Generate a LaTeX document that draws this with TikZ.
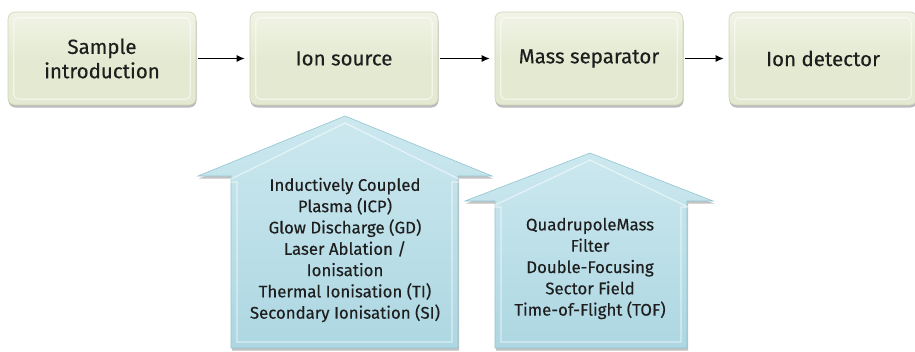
\documentclass[tikz,border=0pt]{standalone}
\usepackage{fontspec}
\setmainfont{Fira Sans}[FakeBold=0.35]
\usetikzlibrary{arrows.meta,shadows,calc}

\definecolor{boxfill}{HTML}{E4EAD2}
\definecolor{boxrim}{HTML}{CDD5B8}
\definecolor{boxlight}{HTML}{F1F4E6}
\definecolor{upfill}{HTML}{ADD7E2}
\definecolor{uprim}{HTML}{92C4D1}
\definecolor{uplight}{HTML}{CCE8EF}
\definecolor{txt}{HTML}{1E1E1E}

\tikzset{
  stagebox/.style={
    draw=boxrim, line width=0.6pt, rounded corners=7pt,
    top color=boxlight, bottom color=boxfill, middle color=boxfill,
    minimum width=188pt, minimum height=93pt,
    align=center, text=txt, font=\fontsize{20.5}{23}\selectfont,
    drop shadow={shadow xshift=0.5pt, shadow yshift=-2.5pt, opacity=0.45, fill=black!60}
  },
  bevel/.style={draw=white, opacity=0.55, line width=1.2pt, rounded corners=5pt},
  flow/.style={-{Latex[length=8pt,width=7pt]}, line width=1pt, black,
    shorten <=2pt, shorten >=5pt},
  upshape/.style={
    draw=uprim, line width=0.6pt, top color=uplight, bottom color=upfill,
    drop shadow={shadow xshift=1pt, shadow yshift=-2.5pt, opacity=0.4, fill=black!60}
  },
  uptext/.style={align=center, text=txt, font=\fontsize{16.8}{21.3}\selectfont}
}

\begin{document}
\begin{tikzpicture}[x=1pt,y=-1pt]
  \useasboundingbox (0,0) rectangle (915,351);

  % process chain
  \node[stagebox] (sample) at (102,58.5) {\raisebox{-2pt}{\shortstack{Sample\\[1pt]introduction}}};
  \node[stagebox] (source) at (344,58.5) {\raisebox{-2pt}{Ion source}};
  \node[stagebox] (separator) at (589,58.5) {\raisebox{-2pt}{Mass separator}};
  \node[stagebox] (detector) at (823,58.5) {\raisebox{-2pt}{Ion detector}};

  % inner highlight of each box
  \foreach \b in {sample,source,separator,detector}
    \path[bevel] ($(\b.north west)+(6,6)$) rectangle ($(\b.south east)+(-6,-6)$);

  \draw[flow] (sample) -- (source);
  \draw[flow] (source) -- (separator);
  \draw[flow] (separator) -- (detector);

  % ion source techniques
  \path[upshape] (231,348) -- (231,176) -- (198,176) -- (345,116) -- (492,176)
    -- (458,176) -- (458,348) -- cycle;
  \path[bevel, rounded corners=0pt] (237,342) -- (237,182) -- (225,182) -- (345,123)
    -- (465,182) -- (452,182) -- (452,342) -- cycle;
  \node[uptext] (sources) at (345,250) {Inductively Coupled\\Plasma (ICP)\\Glow Discharge (GD)\\Laser Ablation /\\Ionisation\\Thermal Ionisation (TI)\\Secondary Ionisation (SI)};

  % mass separator techniques
  \path[upshape] (495,348) -- (495,201) -- (465,201) -- (590,153) -- (713,201)
    -- (687,201) -- (687,348) -- cycle;
  \path[bevel, rounded corners=0pt] (501,342) -- (501,207) -- (491,207) -- (590,160)
    -- (688,207) -- (681,207) -- (681,342) -- cycle;
  \node[uptext] (analysers) at (590,268.5) {QuadrupoleMass\\Filter\\Double-Focusing\\Sector Field\\Time-of-Flight (TOF)};
\end{tikzpicture}
\end{document}
